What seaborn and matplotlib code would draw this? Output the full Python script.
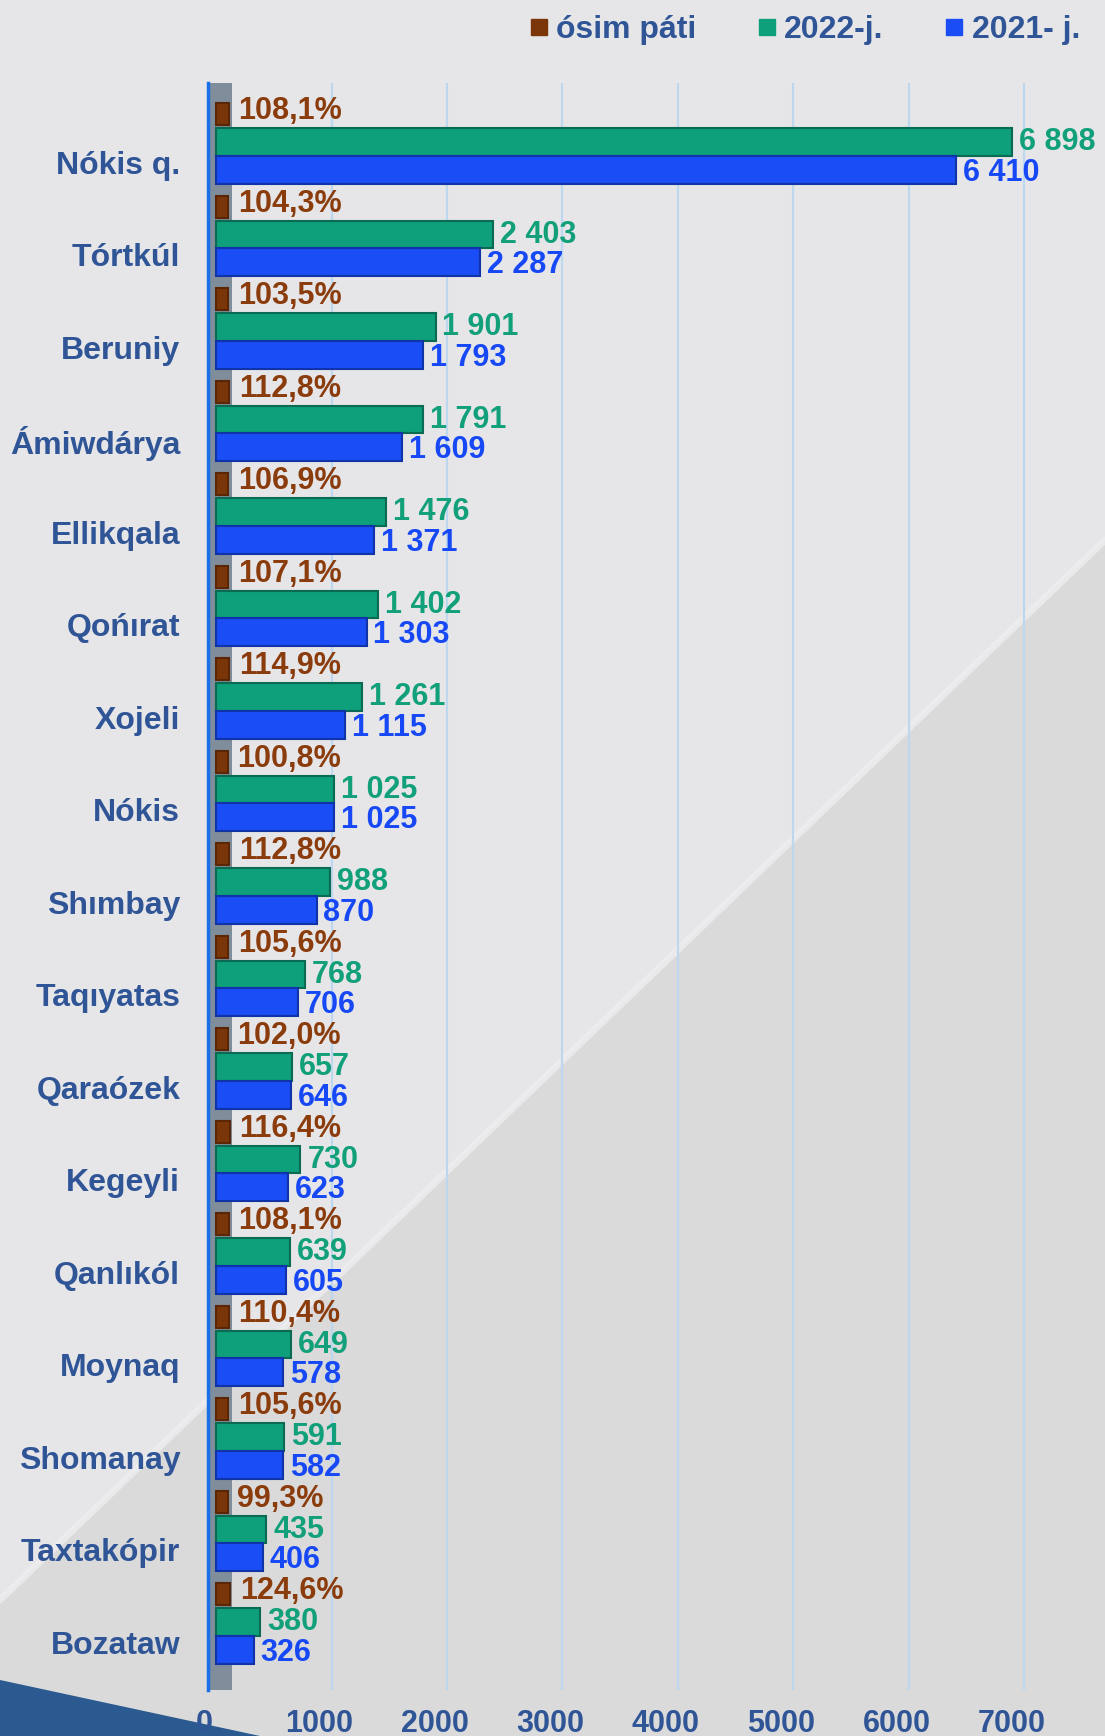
import matplotlib
matplotlib.use("Agg")
import matplotlib.pyplot as plt
import matplotlib.transforms as mtransforms
from matplotlib.lines import Line2D
from matplotlib.patches import Polygon
import seaborn as sns
import pandas as pd

# ---------------- data ----------------
categories = ["Nókis q.", "Tórtkúl", "Beruniy", "Ámiwdárya", "Ellikqala", "Qońırat",
              "Xojeli", "Nókis", "Shımbay", "Taqıyatas", "Qaraózek", "Kegeyli",
              "Qanlıkól", "Moynaq", "Shomanay", "Taxtakópir", "Bozataw"]
growth = [108.1, 104.3, 103.5, 112.8, 106.9, 107.1, 114.9, 100.8, 112.8, 105.6,
          102.0, 116.4, 108.1, 110.4, 105.6, 99.3, 124.6]
y2022 = [6898, 2403, 1901, 1791, 1476, 1402, 1261, 1025, 988, 768, 657, 730,
         639, 649, 591, 435, 380]
y2021 = [6410, 2287, 1793, 1609, 1371, 1303, 1115, 1025, 870, 706, 646, 623,
         605, 578, 582, 406, 326]
series_names = ["ósim páti", "2022-j.", "2021- j."]
x_ticks = [0, 1000, 2000, 3000, 4000, 5000, 6000, 7000]

# ---------------- styling ----------------
bar_colors = ["#7A3608", "#0E9F7B", "#1A4DF5"]
edge_colors = ["#5A2605", "#0A6B52", "#1034A8"]
text_colors = ["#8B3C0C", "#12A07A", "#1748F5"]
label_blue = "#2F5597"
FONT = "Liberation Sans"
FS = 22       # value labels / x ticks
FS_CAT = 23   # category labels / legend

sns.set_theme(style="white")
plt.rcParams["font.family"] = [FONT, "DejaVu Sans"]
plt.rcParams["font.weight"] = "bold"

W, H = 1105, 1736
fig = plt.figure(figsize=(W / 100, H / 100), dpi=100)
fig.patch.set_facecolor("#E6E6E8")

# background decoration (diagonal darker region, highlight, blue corner)
fig.patches.append(Polygon([(1, 1 - 540 / H), (1, 0), (0, 0), (0, 1 - 1600 / H)],
                           closed=True, transform=fig.transFigure,
                           facecolor="#DADADA", edgecolor="none", zorder=-10))
fig.lines.append(Line2D([0, 1], [1 - 1600 / H, 1 - 540 / H], transform=fig.transFigure,
                        color="#EEEEF0", linewidth=5, alpha=0.8, zorder=-9))
fig.patches.append(Polygon([(0, 1 - 1680 / H), (260 / W, 0), (0, 0)],
                           closed=True, transform=fig.transFigure,
                           facecolor="#2A5A90", edgecolor="none", zorder=-8))

ax_left, ax_right = 208 / W, 1090 / W
ax_top, ax_bottom = 1 - 83 / H, 1 - 1690 / H
ax = fig.add_axes([ax_left, ax_bottom, ax_right - ax_left, ax_top - ax_bottom])
ax.set_facecolor("none")

df = pd.DataFrame({
    "region": categories * 3,
    "value": growth + y2022 + y2021,
    "series": [series_names[0]] * len(categories) + [series_names[1]] * len(categories)
              + [series_names[2]] * len(categories),
})

sns.barplot(data=df, y="region", x="value", hue="series", hue_order=series_names,
            order=categories, palette=bar_colors, orient="h", width=0.9,
            ax=ax, legend=False, saturation=1, zorder=3)

for k, (cont, ec) in enumerate(zip(ax.containers, edge_colors)):
    for p in cont:
        p.set_edgecolor(ec)
        p.set_linewidth(1.5)
        if k == 0:
            # slimmer marker for the growth-rate series
            yc = p.get_y() + p.get_height() / 2
            p.set_height(0.24)
            p.set_y(yc - 0.12)

ax.set_xlim(-70, 7570)
ax.set_ylim(16.735, -0.638)
ax.set_xticks(x_ticks)
ax.set_xticklabels([str(t) for t in x_ticks])
ax.set_xlabel("")
ax.set_ylabel("")

# grid + wall
ax.set_axisbelow(True)
ax.grid(axis="x", color="#BDD7EE", linewidth=1.6)
ax.grid(axis="y", visible=False)
ax.axvspan(-70, 140, color="#808D9A", zorder=1, lw=0)
for s in ["top", "right", "bottom"]:
    ax.spines[s].set_visible(False)
ax.spines["left"].set_color("#1A6FE8")
ax.spines["left"].set_linewidth(2.5)

ax.tick_params(axis="both", length=0)
ax.tick_params(axis="y", pad=20, labelsize=FS_CAT, labelcolor=label_blue)
ax.tick_params(axis="x", pad=14, labelsize=FS, labelcolor=label_blue)
for lbl in ax.get_yticklabels():
    lbl.set_fontweight("bold")
    lbl.set_transform(lbl.get_transform() +
                      mtransforms.ScaledTranslation(0, -20 / 100, fig.dpi_scale_trans))
for lbl in ax.get_xticklabels():
    lbl.set_fontweight("bold")
    lbl.set_transform(lbl.get_transform() +
                      mtransforms.ScaledTranslation(-12 / 100, 0, fig.dpi_scale_trans))

# value labels
def fmt_growth(v):
    return f"{v:.1f}".replace(".", ",") + "%"

def fmt_int(v):
    return f"{int(round(v)):,}".replace(",", " ")

offsets = [(7, 2), (5, 0), (5, -2)]  # points (dx, dy)
formatters = [fmt_growth, fmt_int, fmt_int]
values_src = [growth, y2022, y2021]
for k, cont in enumerate(ax.containers):
    for p, v in zip(cont, values_src[k]):
        w = p.get_width()
        yc = p.get_y() + p.get_height() / 2
        ax.annotate(formatters[k](v), xy=(w, yc), xytext=offsets[k],
                    textcoords="offset points", ha="left", va="center",
                    fontsize=FS, fontweight="bold", color=text_colors[k],
                    zorder=5, annotation_clip=False)

# legend
handles = [Line2D([0], [0], marker="s", linestyle="none", markersize=12,
                  markerfacecolor=c, markeredgecolor=c) for c in bar_colors]
leg = fig.legend(handles, series_names, loc="center right",
                 bbox_to_anchor=(1080 / W, 1 - 30 / H), ncol=3, frameon=False,
                 handlelength=0.6, handletextpad=0.25,
                 columnspacing=1.9, borderaxespad=0, borderpad=0,
                 prop={"family": FONT, "weight": "bold", "size": FS_CAT})
for t in leg.get_texts():
    t.set_color(label_blue)

fig.savefig("out.png", dpi=100, facecolor=fig.get_facecolor())
